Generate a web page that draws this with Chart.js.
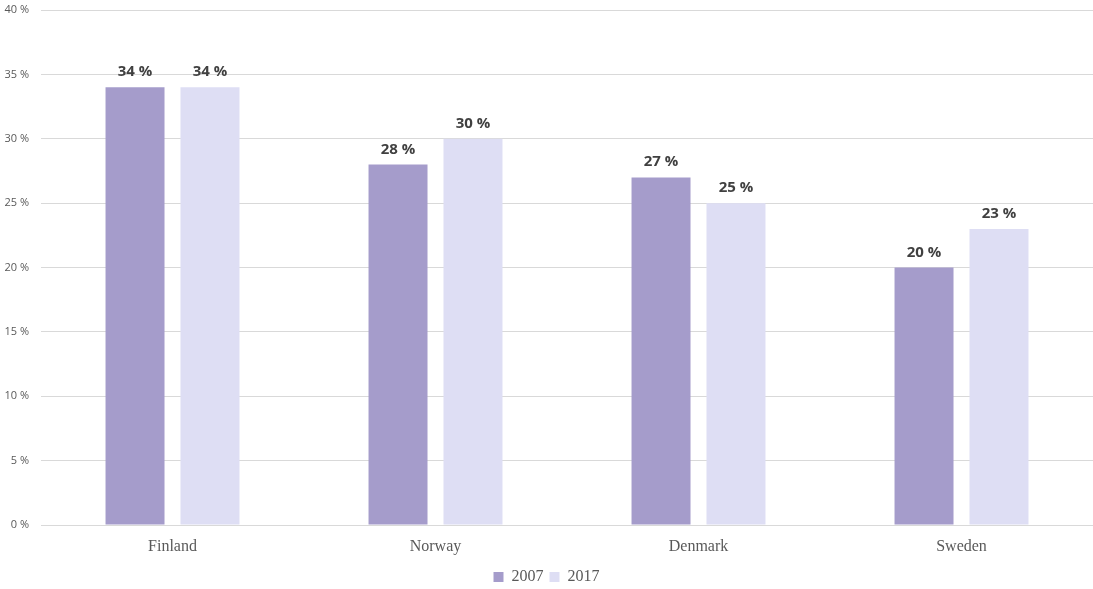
<!DOCTYPE html>
<html>
<head>
<meta charset="utf-8">
<script src="https://cdn.jsdelivr.net/npm/chart.js@4"></script>
<style>
  html, body { margin: 0; padding: 0; background: #ffffff; }
  #wrap { width: 1093px; height: 589px; }
</style>
</head>
<body>
<div id="wrap"><canvas id="c" width="1093" height="589"></canvas></div>
<script>
const categories = ["Finland", "Norway", "Denmark", "Sweden"];
const seriesNames = ["2007", "2017"];
const values2007 = [34, 28, 27, 20];
const values2017 = [34, 30, 25, 23];
const yTicks = [0, 5, 10, 15, 20, 25, 30, 35, 40];

const labelPlugin = {
  id: 'barLabels',
  afterDatasetsDraw(chart) {
    const ctx = chart.ctx;
    ctx.save();
    ctx.font = 'bold 15px "Open Sans"';
    ctx.fillStyle = '#404040';
    ctx.textAlign = 'center';
    ctx.textBaseline = 'alphabetic';
    chart.data.datasets.forEach((ds, i) => {
      const meta = chart.getDatasetMeta(i);
      meta.data.forEach((bar, j) => {
        ctx.fillText(ds.data[j] + ' %', bar.x, bar.y - 11);
      });
    });
    ctx.restore();
  }
};

new Chart(document.getElementById('c'), {
  type: 'bar',
  data: {
    labels: categories,
    datasets: [
      { label: seriesNames[0], data: values2007, backgroundColor: '#a59ccb', categoryPercentage: 0.57, barPercentage: 0.787 },
      { label: seriesNames[1], data: values2017, backgroundColor: '#dedef4', categoryPercentage: 0.57, barPercentage: 0.787 }
    ]
  },
  options: {
    responsive: false,
    animation: false,
    devicePixelRatio: 1,
    layout: { padding: { top: 10, right: 0, left: 0, bottom: -6 } },
    plugins: {
      legend: {
        position: 'bottom',
        labels: {
          boxWidth: 10, boxHeight: 10, padding: 6,
          color: '#595959',
          font: { family: '"Liberation Serif"', size: 16 }
        }
      },
      tooltip: { enabled: false }
    },
    scales: {
      x: {
        grid: { display: false },
        border: { display: false },
        ticks: { color: '#595959', font: { family: '"Liberation Serif"', size: 16 }, padding: 4 },
        afterFit(scale) { scale.height = 38; }
      },
      y: {
        min: 0, max: 40,
        afterBuildTicks(scale) { scale.ticks = yTicks.map(v => ({ value: v })); },
        grid: { color: '#d9d9d9', drawTicks: false, lineWidth: 1 },
        border: { display: false },
        ticks: { color: '#595959', font: { family: '"Open Sans"', size: 11 }, padding: 12,
          callback: v => v + ' %' },
        afterFit(scale) { scale.width = 41; scale.paddingTop = 0; scale.paddingBottom = 0; }
      }
    }
  },
  plugins: [labelPlugin]
});
</script>
</body>
</html>
